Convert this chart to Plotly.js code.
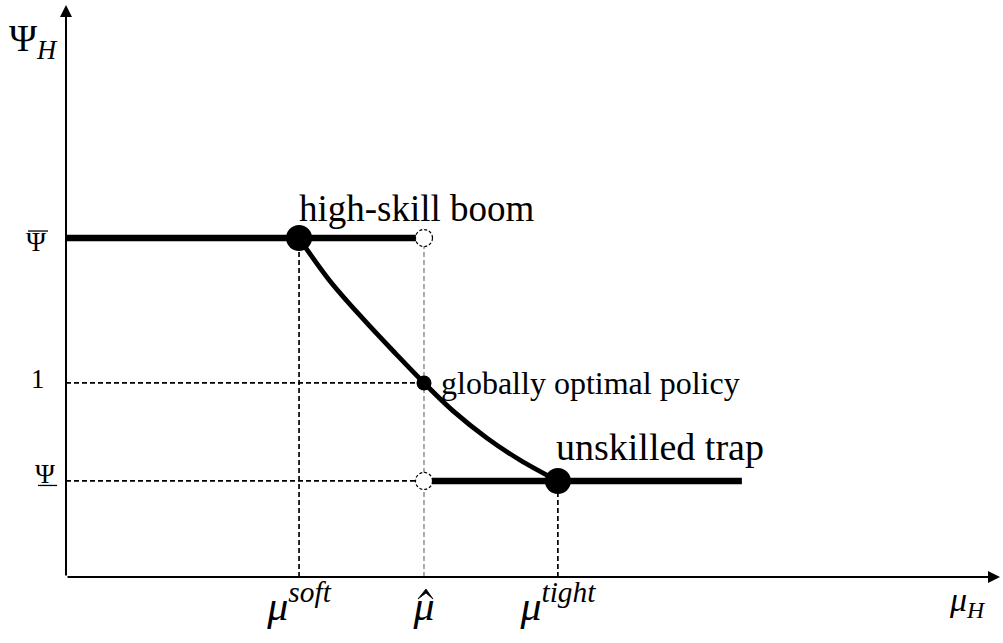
<!DOCTYPE html>
<html>
<head>
<meta charset="utf-8">
<script src="https://cdn.plot.ly/plotly-3.0.1.min.js"></script>
<style>html,body{margin:0;padding:0;background:#fff;}#chart{width:1003px;height:643px;}</style>
</head>
<body>
<div id="chart"></div>
<script>
// ---- data (arbitrary units, mu_hat = 1, Psi = 1) ----
const muSoft = 0.651;
const muHat = 1.0;
const muTight = 1.374;
const psiHigh = 1.747;
const psiOne = 1.0;
const psiLow = 0.495;
const upperLineX = [0, 0.978];
const lowerLineX = [1.022, 1.888];
const curveX = [0.651, 0.735, 0.830, 0.922, 1.0, 1.081, 1.176, 1.268, 1.374];
const curveY = [1.747, 1.531, 1.330, 1.149, 1.0, 0.856, 0.716, 0.603, 0.495];
const xTickVals = [muSoft, muHat, muTight];
const xTickText = ['<i>μ</i><sup><i>soft</i></sup>', '<i>μ</i>', '<i>μ</i><sup><i>tight</i></sup>'];
const yTickVals = [psiHigh, psiOne, psiLow];
const yTickText = ['Ψ', '1', 'Ψ'];
const xMax = 2.609, yMax = 2.948;

const FONT = 'Liberation Serif';
const dashed = {color:'#000', width:1.7, dash:'5px,3px'};
const traces = [
  {x:[muSoft,muSoft], y:[0,psiHigh], mode:'lines', line:dashed},
  {x:[muHat,muHat], y:[0,psiHigh], mode:'lines', line:{color:'#666',width:1.1,dash:'5px,3px'}},
  {x:[muTight,muTight], y:[0,psiLow], mode:'lines', line:dashed},
  {x:[0,muHat], y:[psiOne,psiOne], mode:'lines', line:dashed},
  {x:[0,muHat], y:[psiLow,psiLow], mode:'lines', line:dashed},
  {x:upperLineX, y:[psiHigh,psiHigh], mode:'lines', line:{color:'#000',width:6.5}},
  {x:lowerLineX, y:[psiLow,psiLow], mode:'lines', line:{color:'#000',width:6.5}},
  {x:curveX, y:curveY, mode:'lines', line:{color:'#000',width:4.8,shape:'spline',smoothing:1}},
  {x:[muSoft,muTight], y:[psiHigh,psiLow], mode:'markers', marker:{color:'#000',size:26}, cliponaxis:false},
  {x:[muHat], y:[psiOne], mode:'markers', marker:{color:'#000',size:15}, cliponaxis:false}
];

const openPts = [[muHat, psiHigh],[muHat, psiLow]];
const shapes = openPts.map(p => ({
  type:'circle', xref:'x', yref:'y', xsizemode:'pixel', ysizemode:'pixel',
  xanchor:p[0], yanchor:p[1], x0:-8.5, x1:8.5, y0:-8.5, y1:8.5,
  line:{color:'#000',width:1.2,dash:'3px,2px'}, fillcolor:'#fff', layer:'above'
}));
// overline on upper Psi label, underline on lower Psi label
shapes.push({type:'line', xref:'paper', yref:'y', ysizemode:'pixel', yanchor:psiHigh,
  x0:-0.0407, x1:-0.0193, y0:7, y1:7, line:{color:'#000',width:1.3}});
shapes.push({type:'line', xref:'paper', yref:'y', ysizemode:'pixel', yanchor:psiLow,
  x0:-0.0300, x1:-0.0096, y0:-4.5, y1:-4.5, line:{color:'#000',width:1.3}});
// hat over mu on the x axis
shapes.push({type:'path', xref:'x', yref:'paper', xsizemode:'pixel', ysizemode:'pixel', xanchor:muHat, yanchor:0,
  path:'M -6,-22 L 2,-12 L 9,-22 L 2,-16 Z', fillcolor:'#000', line:{color:'#000',width:0.8}});

const yLabelShift = [[-18,-4],[-19,4],[-9,7]];
const annotations = [
  // axes with arrows
  {x:0, y:yMax, ax:0, ay:0, xref:'x', yref:'y', axref:'x', ayref:'y', text:'', showarrow:true, arrowhead:2, arrowsize:1.2, arrowwidth:2, arrowcolor:'#000'},
  {x:xMax, y:0, ax:0, ay:0, xref:'x', yref:'y', axref:'x', ayref:'y', text:'', showarrow:true, arrowhead:2, arrowsize:1.2, arrowwidth:2, arrowcolor:'#000'},
  // axis titles
  {x:0, y:yMax, xref:'x', yref:'y', xanchor:'right', yanchor:'top', xshift:-6, yshift:-10, showarrow:false,
   text:'Ψ<sub><i>H</i></sub>', font:{family:FONT,size:38,color:'#000'}},
  {x:xMax, y:0, xref:'x', yref:'y', xanchor:'right', yanchor:'top', xshift:-12, yshift:-2, showarrow:false,
   text:'<i>μ</i><sub><i>H</i></sub>', font:{family:FONT,size:34,color:'#000'}},
  // point labels
  {x:muSoft, y:psiHigh, xref:'x', yref:'y', xanchor:'left', yanchor:'bottom', xshift:-2, yshift:7, showarrow:false,
   text:'high-skill boom', font:{family:FONT,size:37,color:'#000'}},
  {x:muHat, y:psiOne, xref:'x', yref:'y', xanchor:'left', yanchor:'middle', xshift:15, yshift:0, showarrow:false,
   text:'globally optimal policy', font:{family:FONT,size:32,color:'#000'}},
  {x:muTight, y:psiLow, xref:'x', yref:'y', xanchor:'left', yanchor:'bottom', xshift:-4, yshift:11, showarrow:false,
   text:'unskilled trap', font:{family:FONT,size:38,color:'#000'}}
];
yTickVals.forEach((v,i) => annotations.push({
  x:0, y:v, xref:'x', yref:'y', xanchor:'right', yanchor:'middle', xshift:yLabelShift[i][0], yshift:yLabelShift[i][1],
  showarrow:false, text:yTickText[i], font:{family:FONT,size:27,color:'#000'}
}));

const layout = {
  width:1003, height:643,
  margin:{l:66, r:3, t:5, b:66},
  paper_bgcolor:'#fff', plot_bgcolor:'#fff',
  showlegend:false,
  xaxis:{range:[0,xMax], showgrid:false, zeroline:false, showline:false, automargin:false,
    tickvals:xTickVals, ticktext:xTickText, ticks:'',
    tickfont:{family:FONT,size:42,color:'#000'}, fixedrange:true},
  yaxis:{range:[0,yMax], showgrid:false, zeroline:false, showline:false, automargin:false,
    showticklabels:false, ticks:'', fixedrange:true},
  shapes:shapes,
  annotations:annotations
};

Plotly.newPlot('chart', traces, layout, {displayModeBar:false, staticPlot:true});
</script>
</body>
</html>
